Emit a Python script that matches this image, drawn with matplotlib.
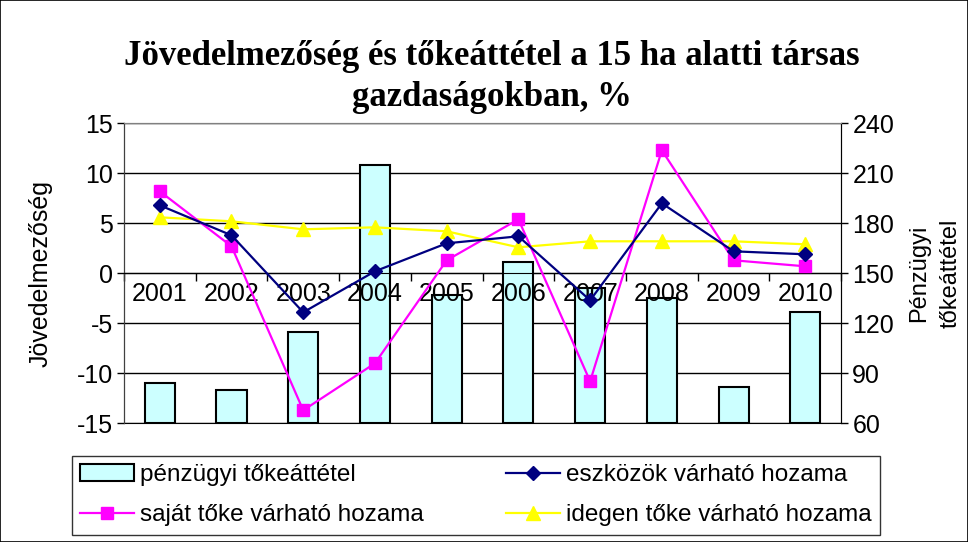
import matplotlib.pyplot as plt
import numpy as np
from matplotlib.patches import Rectangle

years = ["2001", "2002", "2003", "2004", "2005", "2006", "2007", "2008", "2009", "2010"]
penzugyi_tokeattetel = [84, 80, 115, 215, 137, 157, 141, 135, 82, 127]
eszkozok_hozama = [6.8, 3.8, -3.9, 0.2, 3.0, 3.7, -2.7, 7.0, 2.2, 1.9]
sajat_toke_hozama = [8.2, 2.7, -13.7, -9.0, 1.3, 5.4, -10.8, 12.3, 1.3, 0.7]
idegen_toke_hozama = [5.6, 5.2, 4.4, 4.6, 4.2, 2.6, 3.2, 3.2, 3.2, 2.9]

left_ticks = [-15, -10, -5, 0, 5, 10, 15]
right_ticks = [60, 90, 120, 150, 180, 210, 240]

plt.rcParams['font.family'] = ['Liberation Sans', 'DejaVu Sans']
plt.rcParams['axes.unicode_minus'] = False

fig = plt.figure(figsize=(9.68, 5.42), dpi=100)
fig.patches.append(Rectangle((0, 0), 1, 1, transform=fig.transFigure,
                             fill=False, edgecolor="black", linewidth=1.2))

ax = fig.add_axes([0.128, 0.219, 0.741, 0.5535])
ax2 = ax.twinx()
ax.set_zorder(ax2.get_zorder() + 1)
ax.patch.set_visible(False)
ax2.set_facecolor("#c0c0c0")

x = np.arange(len(years))

# bars on the right axis
bars = ax2.bar(x, [v - 60 for v in penzugyi_tokeattetel], bottom=60, width=0.42,
               color="#ccffff", edgecolor="black", linewidth=1.5, zorder=3)
ax2.set_ylim(60, 240)
ax2.set_yticks(right_ticks)
ax2.yaxis.grid(True, color="black", linewidth=1)
ax2.set_axisbelow(True)
ax2.tick_params(axis="y", labelsize=18, length=5, width=1, direction="out", pad=3)
ax2.set_ylabel("Pénzügyi\ntőkeáttétel", fontsize=17, rotation=90, linespacing=1.55)
ax2.yaxis.set_label_coords(1.094, 0.5)

# lines on the left axis
l1, = ax.plot(x, eszkozok_hozama, color="#000080", marker="D", markersize=7,
              linewidth=1.6, label="eszközök várható hozama", zorder=5)
l2, = ax.plot(x, sajat_toke_hozama, color="#ff00ff", marker="s", markersize=8,
              linewidth=1.6, label="saját tőke várható hozama", zorder=4)
l3, = ax.plot(x, idegen_toke_hozama, color="#ffff00", marker="^", markersize=10,
              linewidth=1.6, label="idegen tőke várható hozama", zorder=3)

ax.set_xlim(-0.5, len(years) - 0.5)
ax.set_ylim(-15, 15)
ax.set_yticks(left_ticks)
ax.tick_params(axis="y", labelsize=18, length=5, width=1, direction="out", pad=3)
ax.set_ylabel("Jövedelmezőség", fontsize=18)
ax.yaxis.set_label_coords(-0.100, 0.5)

# category axis crossing at zero
ax.spines["bottom"].set_position(("data", 0))
ax.spines["bottom"].set_color("black")
ax.set_xticks(x)
ax.set_xticklabels(years, fontsize=18)
ax.set_xticks(np.arange(len(years) + 1) - 0.5, minor=True)
ax.tick_params(axis="x", which="major", length=0, pad=6)
ax.tick_params(axis="x", which="minor", length=6, width=1, direction="out")

ax.spines["top"].set_color("#808080")
ax2.spines["top"].set_color("#808080")
ax.spines["left"].set_color("#404040")
ax2.spines["right"].set_color("#404040")

fig.text(0.508, 0.858, "Jövedelmezőség és tőkeáttétel a 15 ha alatti társas\ngazdaságokban, %",
         ha="center", va="center", fontsize=25, fontweight="bold",
         family="Liberation Serif", linespacing=1.3)

leg = fig.legend([bars, l2, l1, l3],
                 ["pénzügyi tőkeáttétel", "saját tőke várható hozama",
                  "eszközök várható hozama", "idegen tőke várható hozama"],
                 ncol=2, loc="lower left", bbox_to_anchor=(0.074, 0.013, 0.835, 0.153),
                 mode="expand", borderaxespad=0, fontsize=17.5, frameon=True,
                 fancybox=False, edgecolor="black", handlelength=2.2,
                 handletextpad=0.25, columnspacing=1.0, borderpad=0.35,
                 labelspacing=0.75)
leg.get_frame().set_linewidth(1)

fig.savefig("out.png", dpi=100)
